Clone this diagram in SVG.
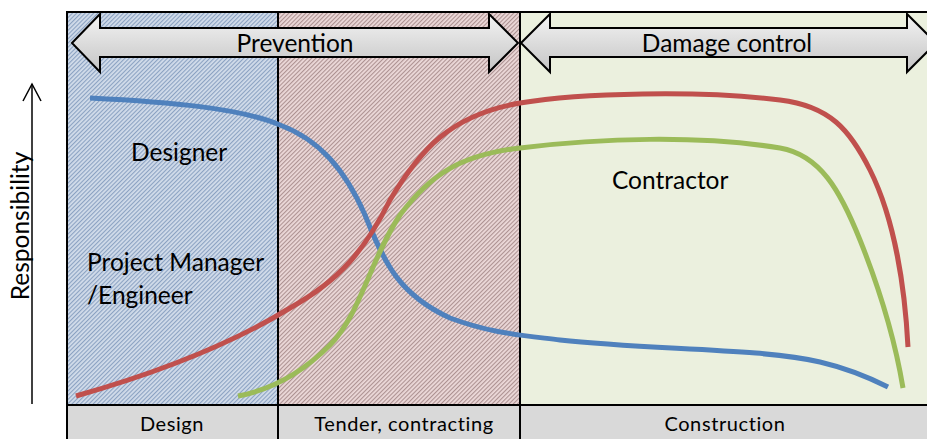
<svg xmlns="http://www.w3.org/2000/svg" width="927" height="439" viewBox="0 0 927 439">
  <defs>
    <pattern id="hatchBlue" width="3" height="3" patternUnits="userSpaceOnUse" patternTransform="rotate(45)">
      <rect width="3" height="3" fill="#d2dcea"/>
      <rect width="1.1" height="3" fill="#8ba2c2"/>
    </pattern>
    <pattern id="hatchRed" width="3" height="3" patternUnits="userSpaceOnUse" patternTransform="rotate(45)">
      <rect width="3" height="3" fill="#ecd9d9"/>
      <rect width="1.1" height="3" fill="#ad9292"/>
    </pattern>
    <linearGradient id="arrowFill" x1="0" y1="0" x2="0" y2="1">
      <stop offset="0" stop-color="#f4f4f4"/>
      <stop offset="1" stop-color="#c4c4c4"/>
    </linearGradient>
    <style>
      .lbl { font-family: Lato, "Liberation Sans", sans-serif; fill: #000; }
      .phase { font-size: 20px; text-anchor: middle; letter-spacing: 0.6px; }
      .band { font-size: 24.5px; text-anchor: middle; }
      .party { font-size: 24.5px; }
      .curve { fill: none; stroke-width: 5; stroke-linecap: butt; }
      .frame { stroke: #000; stroke-width: 2; fill: none; }
      .arrow { fill: url(#arrowFill); stroke: #000; stroke-width: 2; stroke-linejoin: miter; }
    </style>
  </defs>

  <rect width="927" height="439" fill="#fff"/>

  <!-- phase backgrounds -->
  <g id="phase-design">
    <rect x="67" y="12" width="211" height="393" fill="url(#hatchBlue)"/>
    <rect x="67" y="405" width="211" height="34" fill="#d9d9d9"/>
    <text class="lbl phase" x="172" y="431">Design</text>
  </g>
  <g id="phase-tender">
    <rect x="278" y="12" width="242" height="393" fill="url(#hatchRed)"/>
    <rect x="278" y="405" width="242" height="34" fill="#d9d9d9"/>
    <text class="lbl phase" x="404" y="431">Tender, contracting</text>
  </g>
  <g id="phase-construction">
    <rect x="520" y="12" width="410" height="393" fill="#ebf0de"/>
    <rect x="520" y="405" width="410" height="34" fill="#d9d9d9"/>
    <text class="lbl phase" x="725" y="431">Construction</text>
  </g>

  <!-- frame and dividers -->
  <g id="frame" class="frame">
    <rect x="67" y="12" width="870" height="440"/>
    <line x1="278" y1="12" x2="278" y2="439"/>
    <line x1="520" y1="12" x2="520" y2="439"/>
    <line x1="67" y1="405" x2="927" y2="405"/>
  </g>

  <!-- band arrows -->
  <g id="prevention">
    <polygon class="arrow" points="72,43 100,14 100,28 489,28 489,14 518,43 489,72 489,57 100,57 100,72"/>
    <text class="lbl band" x="295" y="52">Prevention</text>
  </g>
  <g id="damage-control">
    <polygon class="arrow" points="521,43 550,14 550,28 907,28 907,14 936,43 907,72 907,57 550,57 550,72"/>
    <text class="lbl band" x="727" y="52">Damage control</text>
  </g>

  <!-- responsibility curves -->
  <g id="connectors">
    <path id="curve-designer" class="curve" stroke="#4f81bd" d="M90,98 C170,102 240,108 280,125 C320,140 345,170 365,215 C385,265 400,295 450,318 C490,333 520,335 560,340 C650,350 760,348 820,362 C850,369 870,378 888,387"/>
    <path id="curve-pm" class="curve" stroke="#c0504d" d="M76,396 C150,375 230,345 290,308 C340,280 365,250 390,200 C420,150 450,115 520,103 C580,93 700,90 780,100 C830,106 850,130 870,170 C895,220 905,290 908,347"/>
    <path id="curve-contractor" class="curve" stroke="#9bbb59" d="M238,396 C270,390 300,375 330,345 C360,315 370,260 400,215 C430,175 460,155 520,148 C600,138 700,135 780,148 C820,155 840,190 860,240 C880,290 895,340 903,388"/>
  </g>

  <!-- party labels -->
  <g id="label-designer"><text class="lbl party" x="131" y="161">Designer</text></g>
  <g id="label-pm">
    <text class="lbl party" x="87" y="271">Project Manager</text>
    <text class="lbl party" x="87" y="304">/Engineer</text>
  </g>
  <g id="label-contractor"><text class="lbl party" x="612" y="189">Contractor</text></g>

  <!-- vertical axis -->
  <g id="axis">
    <line x1="32" y1="84" x2="32" y2="404" stroke="#000" stroke-width="1.5"/>
    <polyline points="23,101 32,84 41,101" fill="none" stroke="#000" stroke-width="1.5"/>
    <text class="lbl" font-size="24.5" text-anchor="middle" transform="translate(29,226) rotate(-90)">Responsibility</text>
  </g>
</svg>
